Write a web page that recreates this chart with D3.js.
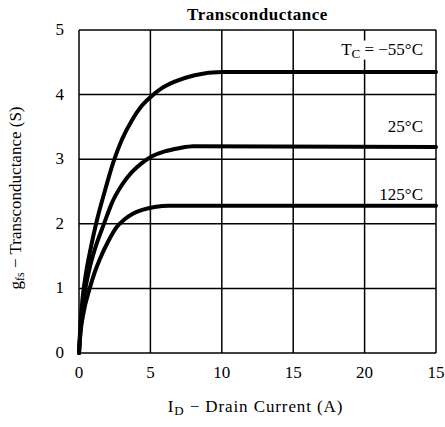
<!DOCTYPE html>
<html>
<head>
<meta charset="utf-8">
<script src="https://cdn.jsdelivr.net/npm/d3@7/dist/d3.min.js"></script>
<style>
  body { margin: 0; background: #fff; }
  text { font-family: "Liberation Serif", "DejaVu Serif", serif; fill: #000; }
</style>
</head>
<body>
<div id="chart"></div>
<script>
// DATA
var xTicks = [0, 5, 10, 15, 20, 25];
var xTickLabels = ["0", "5", "10", "15", "20", "15"]; // last label printed as "15" in the original
var yTicks = [0, 1, 2, 3, 4, 5];

// I_D (A), gfs (S)
var curveM55 = [[0,0],[0.1,0.45],[0.25,0.85],[0.5,1.25],[0.8,1.6],[1.25,2.05],[1.8,2.5],[2.4,2.95],
                [3.0,3.3],[3.7,3.6],[4.3,3.8],[5,3.96],[5.8,4.1],[6.7,4.2],[8.1,4.3],[10,4.35],[25,4.35]];
var curve25  = [[0,0],[0.1,0.35],[0.25,0.7],[0.45,1.0],[0.75,1.32],[1.1,1.6],[1.8,2.03],[2.3,2.32],
                [3.0,2.6],[3.7,2.8],[4.4,2.94],[5,3.03],[6,3.12],[7,3.17],[8,3.2],[25,3.19]];
var curve125 = [[0,0],[0.1,0.3],[0.3,0.6],[0.75,1.0],[1.1,1.25],[1.47,1.46],[2.05,1.73],[2.64,1.95],
                [3.2,2.07],[3.8,2.16],[4.5,2.22],[5.3,2.26],[6.3,2.28],[25,2.28]];

var curves = [curveM55, curve25, curve125];

// SIZES
var W = 445, H = 427;
var margin = {top: 30, right: 9, bottom: 74, left: 79};
var width = W - margin.left - margin.right,
    height = H - margin.top - margin.bottom;

var svg = d3.select("#chart").append("svg")
    .attr("width", W).attr("height", H);

var g = svg.append("g")
    .attr("transform", "translate(" + margin.left + "," + margin.top + ")");

var x = d3.scaleLinear().domain([0, 25]).range([0, width]);
var y = d3.scaleLinear().domain([0, 5]).range([height, 0]);

// grid
g.selectAll(".vgrid").data(xTicks).enter().append("line")
    .attr("x1", d => x(d)).attr("x2", d => x(d))
    .attr("y1", 0).attr("y2", height)
    .attr("stroke", "#000").attr("stroke-width", 1.5);
g.selectAll(".hgrid").data(yTicks).enter().append("line")
    .attr("x1", 0).attr("x2", width)
    .attr("y1", d => y(d)).attr("y2", d => y(d))
    .attr("stroke", "#000").attr("stroke-width", 1.5);

// curves
var line = d3.line()
    .x(d => x(d[0])).y(d => y(d[1]))
    .curve(d3.curveMonotoneX);

g.selectAll(".curve").data(curves).enter().append("path")
    .attr("d", line)
    .attr("fill", "none")
    .attr("stroke", "#000")
    .attr("stroke-width", 4)
    .attr("stroke-linecap", "round");

// curve labels (white boxes hide the grid behind them)
function label(yVal, parts) {
  var t = g.append("text")
      .attr("x", width - 13).attr("y", y(yVal))
      .attr("text-anchor", "end")
      .style("font-size", "17px");
  parts.forEach(function(p) {
    t.append("tspan").text(p.t)
      .attr("dy", p.dy || null)
      .style("font-size", p.fs || null);
  });
  var bb = t.node().getBBox();
  g.insert("rect", "text")
      .attr("x", bb.x - 4).attr("y", bb.y + 1)
      .attr("width", bb.width + 6).attr("height", bb.height - 2)
      .attr("fill", "#fff");
  return t;
}
label(4.62, [{t: "T"}, {t: "C", dy: 3, fs: "13px"}, {t: " = \u221255\u00b0C", dy: -3}]);
label(3.42, [{t: "25\u00b0C"}]);
label(2.37, [{t: "125\u00b0C"}]);

// tick labels
g.selectAll(".xt").data(xTicks).enter().append("text")
    .attr("x", d => x(d)).attr("y", height + 25)
    .attr("text-anchor", "middle")
    .style("font-size", "17px")
    .text((d, i) => xTickLabels[i]);
g.selectAll(".yt").data(yTicks).enter().append("text")
    .attr("x", -15).attr("y", d => y(d) + 5)
    .attr("text-anchor", "end")
    .style("font-size", "17px")
    .text(d => d);

// title
svg.append("text")
    .attr("x", margin.left + width / 2).attr("y", 20)
    .attr("text-anchor", "middle")
    .style("font-size", "17px").style("font-weight", "bold")
    .style("letter-spacing", "0.5px")
    .text("Transconductance");

// x axis title
var xt = svg.append("text")
    .attr("x", margin.left + width / 2 - 2).attr("y", 412)
    .attr("text-anchor", "middle")
    .style("font-size", "17px")
    .style("letter-spacing", "0.9px");
xt.append("tspan").text("I");
xt.append("tspan").text("D").attr("dy", 3).style("font-size", "13px");
xt.append("tspan").text("  \u2212  Drain Current (A)").attr("dy", -3);

// y axis title
var yt = svg.append("text")
    .attr("transform", "translate(21,198)rotate(-90)")
    .attr("text-anchor", "middle")
    .style("font-size", "17px");
yt.append("tspan").text("g");
yt.append("tspan").text("fs").attr("dy", 3).style("font-size", "12px");
yt.append("tspan").text("  \u2212  Transconductance (S)").attr("dy", -3);
</script>
</body>
</html>
